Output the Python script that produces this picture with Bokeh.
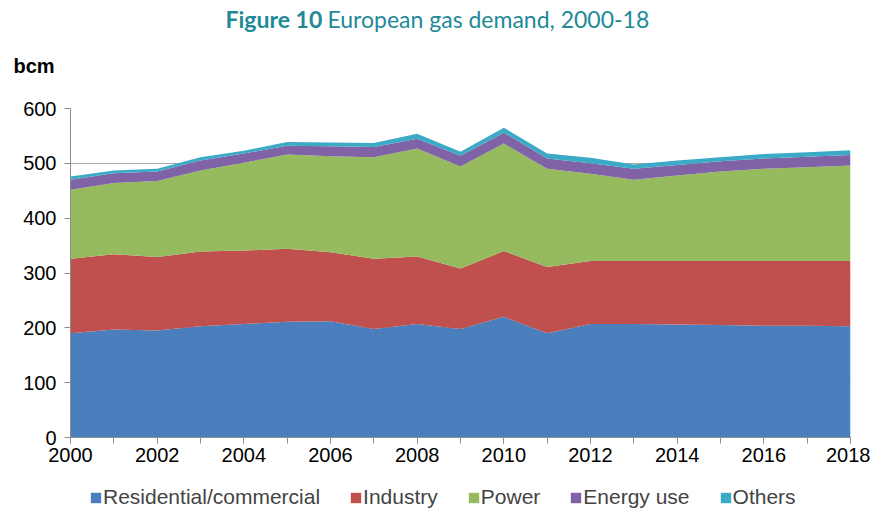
from bokeh.plotting import figure
from bokeh.layouts import column
from bokeh.models import (Label, Legend, LegendItem, FixedTicker, Range1d,
                          ColumnDataSource)
from bokeh.embed import file_html
from bokeh.resources import INLINE

years = list(range(2000, 2019))
residential = [190, 197, 195, 203, 207, 211, 212, 198, 207, 198, 220, 190, 207, 207, 206, 205, 204, 204, 203]
industry = [136, 137, 134, 136, 134, 133, 126, 128, 123, 110, 120, 121, 115, 115, 116, 117, 118, 118, 119]
power = [126, 130, 139, 148, 160, 172, 175, 185, 197, 186, 196, 179, 159, 148, 156, 163, 168, 171, 174]
energy_use = [18, 18, 17, 18, 17, 16, 18, 19, 18, 20, 20, 19, 19, 20, 19, 19, 19, 19, 19]
others = [6, 5, 5, 6, 5, 7, 7, 7, 9, 7, 9, 9, 10, 8, 8, 7, 8, 8, 9]

series_names = ["Residential/commercial", "Industry", "Power", "Energy use", "Others"]
series_keys = ["res", "ind", "pow", "eu", "oth"]
colors = ["#4A7EBD", "#C0504D", "#95BB5E", "#7F63A6", "#3AAAC6"]
y_ticks = [0, 100, 200, 300, 400, 500, 600]
x_tick_labels = [2000, 2002, 2004, 2006, 2008, 2010, 2012, 2014, 2016, 2018]

title_bold = "Figure 10"
title_rest = "European gas demand, 2000-18"
unit_label = "bcm"

W = 870
font = "Liberation Sans"
teal = "#1E8A98"


def no_align(fig):
    try:
        fig.frame_align = False
    except Exception:
        pass


# ---- top strip: title and unit label ----
top = figure(width=W, height=90, output_backend="svg", toolbar_location=None,
             x_axis_type=None, y_axis_type=None, min_border=0,
             x_range=Range1d(0, 1), y_range=Range1d(0, 1))
no_align(top)
top.outline_line_color = None
top.grid.visible = False
top.add_layout(Label(x=225, y=72, x_units="screen", y_units="screen",
                     text=title_bold, text_font="Lato", text_font_style="bold",
                     text_font_size="23px", text_color=teal,
                     text_baseline="middle", text_align="left"))
top.add_layout(Label(x=327, y=72, x_units="screen", y_units="screen",
                     text=title_rest, text_font="Lato",
                     text_font_size="23px", text_color=teal,
                     text_baseline="middle", text_align="left"))
top.add_layout(Label(x=13, y=25, x_units="screen", y_units="screen",
                     text=unit_label, text_font=font, text_font_style="bold",
                     text_font_size="20px", text_color="#000000",
                     text_baseline="middle", text_align="left"))

# ---- main chart ----
source = ColumnDataSource(dict(year=years, res=residential, ind=industry,
                               pow=power, eu=energy_use, oth=others))

p = figure(frame_width=780, frame_height=329, output_backend="svg",
           toolbar_location=None, min_border_left=70, min_border_right=20,
           min_border_top=18, min_border_bottom=40,
           x_range=Range1d(2000, 2018), y_range=Range1d(0, 600))
no_align(p)
p.outline_line_color = None

renderers = p.varea_stack(stackers=series_keys, x="year", color=colors, source=source)

p.xgrid.grid_line_color = None
p.ygrid.grid_line_color = "#ABABAB"
p.ygrid.grid_line_width = 1
p.ygrid.ticker = FixedTicker(ticks=y_ticks)

for ax in (p.xaxis[0], p.yaxis[0]):
    ax.axis_line_color = "#8C8C8C"
    ax.major_tick_line_color = "#8C8C8C"
    ax.minor_tick_line_color = "#8C8C8C"
    ax.major_tick_in = 0
    ax.minor_tick_in = 0
    ax.major_tick_out = 6
    ax.minor_tick_out = 6
    ax.major_label_text_font = font
    ax.major_label_text_font_size = "20px"
    ax.major_label_text_color = "#000000"

p.xaxis[0].ticker = FixedTicker(ticks=x_tick_labels, minor_ticks=years)
p.yaxis[0].ticker = FixedTicker(ticks=y_ticks, minor_ticks=[])
p.xaxis[0].major_label_standoff = 4
p.yaxis[0].major_label_standoff = 8

# ---- bottom strip: legend (stack drawn out of view, only its legend shows) ----
bot = figure(width=W, height=36, output_backend="svg", toolbar_location=None,
             x_axis_type=None, y_axis_type=None, min_border=0,
             x_range=Range1d(2000, 2018), y_range=Range1d(-2, -1))
no_align(bot)
bot.outline_line_color = None
bot.grid.visible = False
key_renderers = bot.varea_stack(stackers=series_keys, x="year", color=colors, source=source)
items = [LegendItem(label=n, renderers=[r]) for n, r in zip(series_names, key_renderers)]
legend = Legend(items=items, orientation="horizontal", location=(89, 4),
                glyph_width=13, glyph_height=13, label_standoff=1, spacing=29,
                label_height=21,
                label_text_font=font, label_text_font_size="21px",
                border_line_color=None, background_fill_alpha=0,
                padding=0, margin=0)
bot.add_layout(legend, "center")

layout = column(top, p, bot, spacing=0)
open("out.html", "w").write(file_html(layout, INLINE))
